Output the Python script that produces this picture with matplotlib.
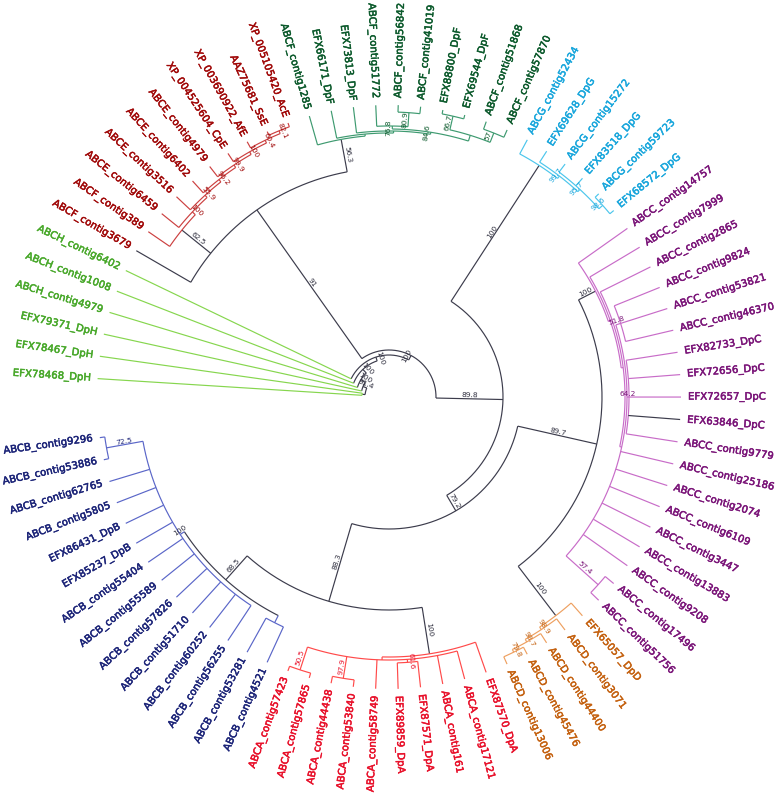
import numpy as np
import matplotlib.pyplot as plt
import matplotlib.patheffects as pe

# ABC transporter tree, newick pieces per subfamily (support as node label, branch length after ':')
tree_B = ("(((ABCB_contig9296,ABCB_contig53886)72.5:37,ABCB_contig62765,ABCB_contig5805,"
          "EFX86431_DpB,EFX85237_DpB,ABCB_contig55404,ABCB_contig55589,ABCB_contig57826,"
          "ABCB_contig51710,ABCB_contig60252,ABCB_contig56255)100:5,"
          "(ABCB_contig53281,ABCB_contig4521):8)68.5:32")
tree_A = ("(((ABCA_contig57423,ABCA_contig57865)50.5:24,(ABCA_contig44438,ABCA_contig53840)97.9:22,"
          "ABCA_contig58749,(EFX89859_DpA,EFX87571_DpA)61.6:3,ABCA_contig161,ABCA_contig17121):3,"
          "EFX87570_DpA)100:47")
tree_D = ("((((ABCD_contig13006,ABCD_contig45476)79.8:3,ABCD_contig44400)98.7:3,"
          "ABCD_contig3071)98.9:3,EFX65057_DpD)100:62")
tree_C = ("(((((ABCC_contig51756,ABCC_contig17496)57.4:43,ABCC_contig9208,ABCC_contig13883,"
          "ABCC_contig3447,ABCC_contig6109,ABCC_contig2074,ABCC_contig25186,"
          "(ABCC_contig9779,EFX63846_DpC,EFX72657_DpC,EFX72656_DpC,EFX82733_DpC)64.2:2,"
          "(ABCC_contig46370,ABCC_contig53821,ABCC_contig9824)51.8:5):2,"
          "ABCC_contig2865):2,ABCC_contig7999):2,ABCC_contig14757)100:19")
tree_G = ("((((EFX68572_DpG,ABCG_contig59723)98.6:5,EFX83518_DpG,ABCG_contig15272)95.7:3,"
          "EFX69628_DpG)99.7:3,ABCG_contig52434)100:162")
tree_F = ("((((((ABCF_contig57870,ABCF_contig51868)57:10,(EFX69544_DpF,EFX88800_DpF)66.7:14):6,"
          "((ABCF_contig41019,ABCF_contig56842)80.9:14,ABCF_contig51772)76.8:3)84.6:2,"
          "EFX73813_DpF):2,EFX66171_DpF):2,ABCF_contig1285)56.3:33")
tree_E = ("((((((((XP_005105420_AcE,AAZ75681_SsE)82.1:3,XP_003690922_AfE)60.4:3,"
          "XP_004525604_CpE)100:3,ABCE_contig4979)99.9:3,ABCE_contig6402)96.2:3,"
          "ABCE_contig3516)55.9:3,ABCE_contig6459)100:4,ABCF_contig389)62.5:37")

newick = ("(((((((((" + tree_B + "," + tree_A + ")88.3:81,(" + tree_D + "," + tree_C
          + ")89.7:81)79.2:18," + tree_G + ")89.8:67,(" + tree_F + "," + tree_E
          + ",ABCF_contig3679)91:182)100:5,ABCH_contig6402)100:4,ABCH_contig1008)100:5,"
          "ABCH_contig4979)100:5,EFX79371_DpH)91.4:4,(EFX78467_DpH,EFX78468_DpH):3);")

# subfamily colours: (branch, text)
clade_colors = {
    'A': ('#ff4a4a', '#e8102a'),
    'B': ('#5a66c8', '#1c2478'),
    'C': ('#c86cc8', '#7a1478'),
    'D': ('#eea060', '#c4600e'),
    'E': ('#cc4040', '#a00808'),
    'F': ('#3e9a70', '#0c5a2c'),
    'G': ('#4cc6ec', '#18a6dc'),
    'H': ('#86d64e', '#48a82a'),
    None: ('#3c3c4c', '#2c2c3c'),
}
clade_override = {'ABCF_contig389': 'E', 'ABCF_contig3679': 'E'}
black_leaves = ['EFX63846_DpC', 'ABCF_contig3679']
black_arcs = ['68.5']

CX, CY = 389, 397
ROOT_R = 24
TIP_R = 292
LABEL_R = 299
START_ANGLE = 188.0
STEP = 4.41


def parse(s):
    s = s.replace(' ', '')
    pos = 0

    def node():
        nonlocal pos
        n = {'children': [], 'name': '', 'support': '', 'length': 0.0}
        if s[pos] == '(':
            pos += 1
            while True:
                n['children'].append(node())
                if s[pos] == ',':
                    pos += 1
                    continue
                pos += 1
                break
        start = pos
        while s[pos] not in ',():;':
            pos += 1
        lab = s[start:pos]
        if n['children']:
            n['support'] = lab
        else:
            n['name'] = lab
        if s[pos] == ':':
            pos += 1
            start = pos
            while s[pos] not in ',();':
                pos += 1
            n['length'] = float(s[start:pos])
        return n
    return node()


def clade_of(name):
    if name in clade_override:
        return clade_override[name]
    if name.startswith('ABC'):
        return name[3]
    if '_Dp' in name:
        return name[-1]
    return 'E'


root = parse(newick)
counter = [0]


def layout(n, r):
    n['r'] = r
    if not n['children']:
        n['r'] = TIP_R
        n['a'] = START_ANGLE + STEP * counter[0]
        counter[0] += 1
        n['clade'] = clade_of(n['name'])
        return {n['clade']}
    cl = set()
    for c in n['children']:
        cl |= layout(c, r + c['length'])
    n['a'] = (n['children'][0]['a'] + n['children'][-1]['a']) / 2
    n['clade'] = list(cl)[0] if len(cl) == 1 else None
    return cl


layout(root, ROOT_R)


def xy(r, a):
    t = np.radians(a)
    return CX + r * np.cos(t), CY - r * np.sin(t)


def readable(a):
    a = a % 360
    if 90 < a < 270:
        return a - 180, 'right'
    return (a if a <= 90 else a - 360), 'left'


fig = plt.figure(figsize=(7.78, 7.97), dpi=100)
ax = fig.add_axes([0, 0, 1, 1])
ax.set_xlim(0, 778)
ax.set_ylim(797, 0)
ax.set_aspect('equal')
ax.axis('off')

LW = 0.85


def draw(n):
    if not n['children']:
        return
    col = clade_colors[n['clade']][0]
    arc_col = clade_colors[None][0] if n['support'] in black_arcs else col
    a0, a1 = n['children'][0]['a'], n['children'][-1]['a']
    aa = np.linspace(a0, a1, int(abs(a1 - a0) * 3) + 2)
    x, y = xy(n['r'], aa)
    ax.plot(x, y, color=arc_col, lw=LW, solid_capstyle='butt')
    for c in n['children']:
        if c['children']:
            bcol = col
        elif c['name'] in black_leaves:
            bcol = clade_colors[None][0]
        else:
            bcol = clade_colors[c['clade']][0]
        x, y = xy(np.array([n['r'], c['r']]), c['a'])
        ax.plot(x, y, color=bcol, lw=LW, solid_capstyle='butt')
        if c['children'] and c['support']:
            rot, _ = readable(c['a'])
            mx, my = xy((n['r'] + c['r']) / 2, c['a'])
            t = np.radians(rot)
            mx += -np.sin(t) * 3.5
            my += -np.cos(t) * 3.5
            tc = clade_colors[n['clade']][1]
            if n['support'] in black_arcs:
                tc = clade_colors[None][1]
            ax.text(mx, my, c['support'], fontsize=5.3, rotation=rot,
                    rotation_mode='anchor', ha='center', va='center', color=tc)
        draw(c)


draw(root)


def leaves(n):
    if not n['children']:
        yield n
    for c in n['children']:
        yield from leaves(c)


for lf in leaves(root):
    rot, ha = readable(lf['a'])
    x, y = xy(LABEL_R, lf['a'])
    col = clade_colors[lf['clade']][1]
    ax.text(x, y, lf['name'], fontsize=7.3, rotation=rot, rotation_mode='anchor',
            ha=ha, va='center', color=col,
            path_effects=[pe.withStroke(linewidth=0.35, foreground=col)])

fig.savefig('out.png', dpi=100)
